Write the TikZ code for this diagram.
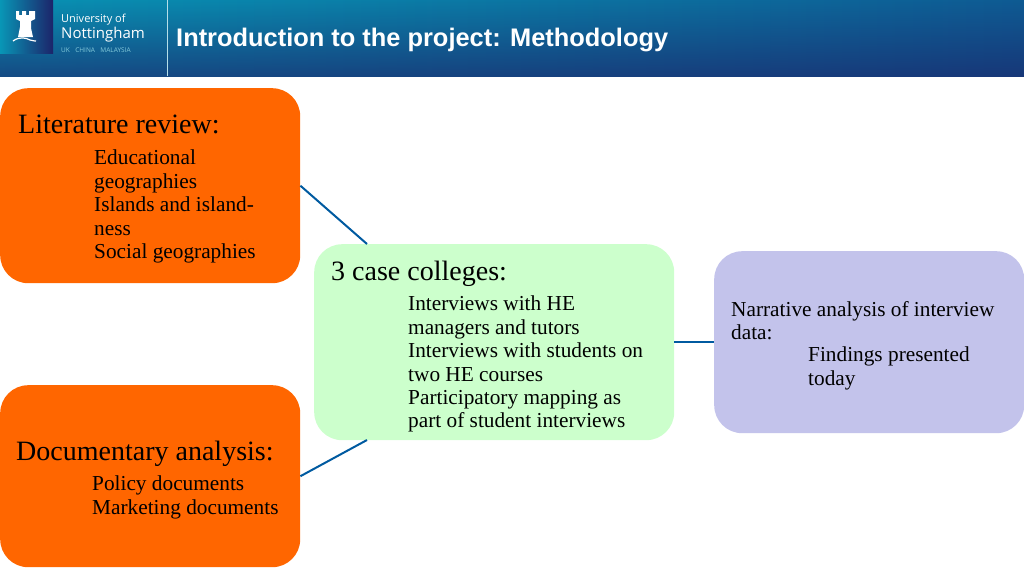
\documentclass[tikz,border=0pt]{standalone}
\usepackage{fontspec}
\setmainfont{Liberation Serif}
\newfontfamily\headfont{Liberation Sans}
\newfontfamily\logofont{Open Sans}
\usetikzlibrary{positioning,fadings}
\definecolor{orangebox}{RGB}{255,102,0}
\definecolor{greenbox}{RGB}{204,255,204}
\definecolor{lilacbox}{RGB}{195,195,235}
\definecolor{linkblue}{RGB}{0,90,160}
\definecolor{barteal}{RGB}{8,150,182}
\definecolor{barmid}{RGB}{14,92,148}
\definecolor{barnavy}{RGB}{28,36,106}
\tikzstyle{block} = [rectangle, rounded corners=28pt, inner sep=0pt, anchor=north west]
\tikzstyle{heading} = [inner sep=0pt, anchor=base west, font=\fontsize{28}{28}\selectfont]
\tikzstyle{points} = [inner sep=0pt, anchor=north west, align=left, font=\fontsize{21.3}{23.4}\selectfont]
\tikzstyle{link} = [draw=linkblue, line width=2pt]
\begin{document}
\begin{tikzpicture}[x=1pt,y=-1pt]
        \useasboundingbox (0,0) rectangle (1024,576);
        % header
        \begin{scope}
        \clip (0,0) rectangle (1024,76);
        \shade [left color=barteal, right color=barmid] (-4,-4) rectangle (1028,80);
        \fill [barnavy, path fading=north, fill opacity=0.7] (-4,-4) rectangle (1028,82);
        \end{scope}
        \shade [shading angle=135, left color=barteal, right color=barnavy] (0,0) rectangle (53,53);
        \draw [white!70!barteal, line width=0.7pt] (167.5,0) -- (167.5,76);
        % castle
        \fill [white] (16,11) -- (19,11) -- (19,15) -- (22,15) -- (22,11) -- (26,11) -- (26,15) -- (29,15) -- (29,11) -- (35,11) -- (35,19) -- (31,21) -- (31,28) -- (33,37) -- (18,37) -- (20,27) -- (20,21) -- (16,19) -- cycle;
        \draw [white, line width=1.2pt] (13,41) .. controls (20,36) and (26,38) .. (30,40) .. controls (33,41) and (36,41) .. (36,41);
        \node (uni) [inner sep=0pt, anchor=base west, text=white, font=\logofont\fontsize{11}{11}\selectfont] at (61,22) {University of};
        \node (nott) [inner sep=0pt, anchor=base west, text=white, font=\logofont\fontsize{15}{15}\selectfont] at (61,38) {Nottingham};
        \node (where) [inner sep=0pt, anchor=base west, text=white!50!barteal, font=\logofont\fontsize{6.5}{6.5}\selectfont] at (61,52) {UK\,\,\,\,\,CHINA\,\,\,\,\,MALAYSIA};
        \node (title) [inner sep=0pt, anchor=base west, text=white, font=\headfont\bfseries\fontsize{25.4}{25.4}\selectfont] at (176,46) {Introduction to the project: Methodology};
        % boxes
        \node (lit) [block, fill=orangebox, minimum width=300pt, minimum height=195pt] at (0,88) {};
        \node (doc) [block, fill=orangebox, minimum width=300pt, minimum height=182pt] at (0,385) {};
        \node (case) [block, fill=greenbox, minimum width=360pt, minimum height=196pt] at (314,244) {};
        \node (narr) [block, fill=lilacbox, minimum width=310pt, minimum height=182pt] at (714,251) {};
        % box texts
        \node (lithead) [heading] at (18,133) {Literature review:};
        \node (litlist) [points] at (94,150) {Educational\\geographies\\Islands and island-\\ness\\Social geographies};
        \node (dochead) [heading] at (16,460) {Documentary analysis:};
        \node (doclist) [points] at (92,476) {Policy documents\\Marketing documents};
        \node (casehead) [heading] at (331,280) {3 case colleges:};
        \node (caselist) [points] at (408,296) {Interviews with HE\\managers and tutors\\Interviews with students on\\two HE courses\\Participatory mapping as\\part of student interviews};
        \node (narrlist) [points] at (731,301) {Narrative analysis of interview\\data:};
        \node (narrsub) [points] at (808,347) {Findings presented\\today};
        % connectors
        \coordinate (caseup) at (367,244);
        \coordinate (casedown) at (367,440);
        \draw [link] (lit.east) -- (caseup);
        \draw [link] (doc.east) -- (casedown);
        \draw [link] (case.east) -- (narr.west);
\end{tikzpicture}
\end{document}
